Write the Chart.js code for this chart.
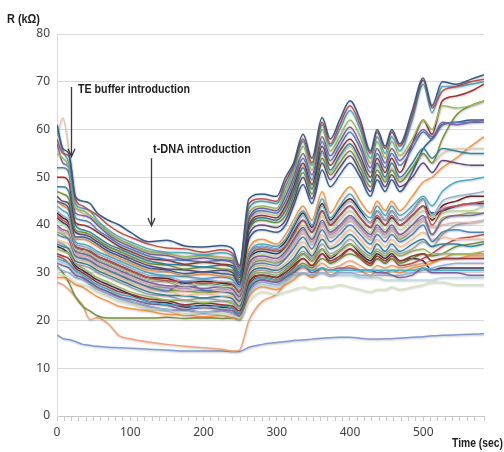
<!DOCTYPE html>
<html>
<head>
<meta charset="utf-8">
<script src="https://cdn.jsdelivr.net/npm/chart.js@4/dist/chart.umd.min.js"></script>
<style>
  html, body { margin: 0; padding: 0; background: #ffffff; }
  #wrap { width: 504px; height: 452px; }
</style>
</head>
<body>
<div id="wrap"><canvas id="chart" width="504" height="452"></canvas></div>
<script>
// Sampling times (sec) shared by every sensor trace
const times = [0,8,16,25,35,45,55,70,85,100, 125,150,175,200,225,240, 249,262,280,300,
  312,323,336,348,362,373,386,400,414,428,437,448,457,468, 485,500,512,526,545,565,583];

// Resistance traces (kΩ), one array per sensor
const sensorU01 = [61,56,55,46,45,44.5,42.5,41,40,38.5, 36.5,36.8,35.6,35.4,35.7,35, 31.5,45.5,46.5,46, 50,53,59,54,62.5,58,62,66,62,55.5,60,56.5,60,57, 64,70.8,65,70,69.5,70.5,71.5];
const sensorU02 = [58,55,54.5,45.5,44,43,42,40,38.5,37.5, 36,35.2,35,34.3,34.8,34, 31,44.5,45.5,45, 49,52.5,58,53,61.5,57,61,65,61,55,59.5,56,59.5,56.5, 63,70.3,64.5,68,69,70,70.5];
const sensorU03 = [60,55.5,53,44.5,43.5,43,41,39,37.5,36.5, 35,34.3,34.2,33.8,34.2,33.5, 30.5,43.5,45,44.5, 48,52,57.5,52.5,61,56.5,60,64,60,54,58.5,55,58.5,55.5, 62,69.5,63.5,69,69,69.5,70];
const sensorU04 = [55,54,52,43.5,43,42,40.5,38.5,37,36, 34.5,34,33.3,33.6,33.2,33, 30.5,42.5,44,43.5, 47,51,56.5,51.5,60,55.5,58.5,62,58.5,53,57.5,54,57.5,54.5, 58,62,60,65,64.5,65,66];
const sensorU05 = [57,53,52,42.5,42,41.5,40,38,36.5,35.5, 34,33.6,32.8,33.1,32.7,32.5, 30,41.5,43.5,43, 46,50,55,50.5,58.5,54.5,57.5,60.5,57,52,56,53,56,53.5, 57,60,58.5,61.5,61,61.5,62];
const sensorU06 = [52,52,51,41.5,41,40.5,39,37.5,36,35, 33.5,32.8,32.6,32.3,32.6,32, 29.5,41,43,42.5, 45,49,54,49.5,57.5,53.5,56.5,59.5,56,51,55,52,55,52.5, 56,59.5,58,61,61.5,61.5,61.5];
const sensorU07 = [50,50,49,40.5,40,39.5,38.5,37,35.5,34.5, 33,32.6,31.8,32.2,31.8,31.5, 29.5,40,42,41.5, 44,48,53,48.5,56.5,52.5,55.5,58,54.5,50,54,51,54,51, 57,62,59,66,67,68,69.5];
const sensorU08 = [48,48,47,40,39,38.5,37.5,36,35,34, 32.5,31.8,31.6,31.2,31.6,31, 29,39.5,41.5,41, 43,47,52,47.5,55.5,51.5,54.5,57,53.5,49,53,50,53,50, 53,56,54,56,55.5,55,55];
const sensorU09 = [47,46.5,45.5,39,38.5,38,37,35.5,34.5,33.5, 32,31.6,30.8,31.2,30.8,30.5, 28.5,39,41,40.5, 42,46,51,46.5,54,50.5,53,55.5,52,48,51.5,49,51.5,49, 52,55,53,58,63,65,66];
const sensorU10 = [46,45,44.5,38.5,38,37.5,36.5,35,34,33, 31.5,30.8,30.6,30.2,30.5,30, 28,38,40,39.5, 41,45,50,45.5,53,49.5,52,54.5,51,47,50.5,48,50.5,48, 50,53,51,53.5,53,52.5,52.5];
const sensorU11 = [45,44.5,43.5,37.5,37.5,37,36,34.5,33.5,32.5, 31,30.6,29.8,30.2,29.8,29.5, 27.5,37,39,38.5, 40,44,48.5,44.5,51.5,48,50.5,53,50,46,49.5,47,49.5,47, 51,56,58,61,61.5,62,62];
const sensorU12 = [59,62.4,56,45,42.5,42,40.5,38.5,37,36, 34.5,34.2,33.4,33.7,33.3,33, 31,41,42.5,42, 44,47.5,52.5,48,55,51,54,56.5,53,49,52.5,49.5,52,49.5, 52,55,53,55,56,56,56];
const sensorM01 = [45,44,43,37,37,36.5,35.5,34,33,32, 30.5,30.2,29.4,29.7,29.3,29, 27.5,35,37,36, 38,41,44,41,47,42.5,45.5,48,45,42.5,45,43,45,43, 46,49,50,52,54,56.5,58.5];
const sensorM02 = [44,43,42,36.5,36,35.5,34.5,33.5,32.5,31.5, 30,29.4,29.2,28.8,29.1,28.5, 27,34,36,35.5, 37,40,43,40,45.5,41.5,44,46.5,43.5,41.5,44,42,44,42, 44,46,44,47,49,49.5,50];
const sensorM03 = [43,42,41,36,35.5,35,34,33,32,31, 29.5,29.2,28.3,28.6,28.2,28, 26.5,33.5,35.5,35, 36,39,42,39,44,40.5,43,45,42.5,40.5,43,41,43,41, 43,45.5,42,45,46,46.5,47];
const sensorM04 = [42,41,40,35.5,35,34.5,33.5,32.5,31.5,30.5, 29,28.3,28.2,27.8,28.1,27.5, 26,33,35,34.5, 35.5,38,41,38.5,43,40,42,44,41.5,39.5,42,40,42,40, 42,44,40,43,44,44.5,45];
const sensorM05 = [41,40,39,35,34.5,34,33,32,31,30, 28.5,28.2,27.3,27.7,27.2,27, 25.5,32.5,34,33.5, 35,37.5,40,37.5,42,39,41,43,40.5,38.5,41,39,41,39, 41,43,41.5,42.5,43,43,44];
const sensorM06 = [40,39,38.5,34.5,34,33.5,32.5,31.5,30.5,29.5, 28,27.3,27.2,26.7,27.1,26.5, 25,32,33.5,33, 34.5,37,39.5,37,41,38.5,40,42,40,38,40,38.5,40,38, 40,42,38,41,42,42,42.5];
const sensorM07 = [39,38.5,38,34,33.5,33,32,31,30,29, 27.5,27.2,26.3,26.7,26.2,26, 24.5,31,33,32.5, 33.5,36,38.5,36,40,37.5,39,41,39,37,39,37.5,39,37.5, 39,41,39.5,40,40.5,40.5,41];
const sensorM08 = [38,37.5,37,33.5,33,32.5,31.5,30.5,29.5,28.5, 27,26.2,28,26.3,26.1,25.5, 24,30.5,32,31.5, 33,35,37.5,35,39,36.5,38,40,38,36,38,36.5,38,36.5, 38,40,36.5,38.5,39,38.5,38.5];
const sensorM09 = [37,36.5,36,33,32.5,32,31,30,29,28, 26.5,26.2,25.3,25.7,25.2,25, 23.5,30,31.5,31, 32,34,36.5,34,38,35.5,37,39,37,35,37,35.5,37,35.5, 37,38.5,37,37.5,37,37,37];
const sensorM10 = [36,35.5,35,32.5,32,31.5,30.5,29.5,28.5,27.5, 26,25.3,25.2,24.7,25.1,24.5, 23,29.5,31,30.5, 31.5,33,35.5,33.5,37,35,36,38,36,34,36,34.5,36,34.5, 36,37,35.5,36,36,35.5,36];
const sensorM11 = [36.5,36,35,32,31.5,31,30,29,28,27, 25.5,25.2,24.3,24.7,24.2,24, 22.5,29,30.5,30, 31,32.5,34.5,33,36,34,35,37,35,33.5,35,34,35,34, 35,36.5,35.5,38,40,40.5,41];
const sensorM12 = [39.5,38.5,38,34,33.5,33,32,31,30,29, 27.5,26.8,26.7,26.2,26.6,26, 24.5,31.5,33,32.5, 34,36.5,39,36.5,40.5,38,39.5,41.5,39.5,37.5,39.5,38,39.5,38, 40,41.5,42,43.5,44,44.5,44];
const sensorM13 = [42.5,41.5,40.5,35.5,35,34.5,33.5,32.5,31.5,30.5, 29,28.8,27.8,28.2,27.8,27.5, 26,33.5,35.5,35, 36.5,39.5,42.5,39.5,44.5,41,43.5,45.5,43,40.5,43,41,43,41, 43,45.5,41,44,45,46,46];
const sensorM14 = [38.5,38,37,33.5,33,32.5,31.5,30.5,29.5,28.5, 27,26.3,26.2,25.8,26.1,25.5, 24,31,32.5,32, 33.5,36,38.5,36,40,37.5,39,41,39,37,39,37.5,39,37, 39,41,38,41.5,42,42.5,42.5];
const sensorM15 = [41.5,40.5,39.5,35,34.5,34,33,32,31,30, 28.5,28.2,27.3,27.7,27.3,27, 25.5,32.5,34.5,34, 35.5,38.5,41,38.5,43,40,42,44,41.5,39.5,41.5,40,41.5,40, 42,44,42.5,43,44,44.5,44.5];
const sensorL01 = [35,34.5,34,32,31,30,29,28,27,26, 25,24.3,24.2,23.8,24.1,23.5, 22.5,28.5,30,29.5, 30.5,32,34,32.5,35,33.5,34.5,36,34.5,33,34.5,33.5,34.5,33.5, 34.5,35,34,34,34,34,34.5];
const sensorL02 = [34,33.5,33,31,30,29,28,27,26,25.5, 24.5,24.2,23.3,23.7,23.3,23, 22,28,29.5,29, 30,31.5,33,31.5,34,32.5,33.5,35,33.5,32,33.5,32.5,33.5,32.5, 33.5,34,32.5,33,33,33,33];
const sensorL03 = [33,32.5,32,30.5,29.5,28.5,27.5,26.5,25.5,25, 24,23.3,23.2,22.7,23.1,22.5, 21.5,27,29,28.5, 29.5,30.5,31.5,30.5,31,30.5,30.5,30.5,30.5,30.5,30.5,30.5,30.5,30.5, 30.5,31,30.5,30.5,30.5,30.5,30.5];
const sensorL04 = [32,31.5,31,29.5,29,28,27,26,25,24.5, 23.5,23.2,22.3,22.7,22.3,22, 21,26.5,28.5,28, 29,30,31.5,30,31,30.5,31,31,30.5,30.5,30,30,29.5,29, 29.5,31,30,30,30,29.5,29.5];
const sensorL05 = [31,30.5,30,29,28.5,27.5,26.5,25.5,24.5,24, 23,22.3,22.2,21.8,22.1,21.5, 21,26,28,27.5, 28.5,29.5,30,29.5,30,29.5,30,30,29.5,29.5,29.5,29.5,29.5,29.5, 30,30.5,31,31.5,32,32,32];
const sensorL06 = [30,29.5,29,28,27.5,27,26,25,24,23.5, 22.5,22.2,21.3,21.7,21.3,21, 20.5,24,26,25.5, 26,26.5,27,26.5,27,27,27.5,27,26.5,26,26.5,26.5,27,26.5, 27,27.5,28,28,27.5,27.5,27.5];
const sensorL07 = [29,29,28.5,27.5,27,26,25,24,23,22.5, 22,21.3,21.2,20.8,21.1,20.5, 20.2,25,27,26.5, 27.5,28.5,30,29,31,29.5,30.5,31.5,30.5,29.5,30.5,30,30.5,30, 31,31.5,32,33,34,34,34];
const sensorL08 = [32.5,32,31.5,30,29,28,27,26,25,24, 22.5,22.2,21.3,21.7,21.3,21, 20.6,25.5,27.5,27, 28,29,30,29.5,30,29.5,29.5,29.5,29,29,29,28.5,28.5,28.5, 28.5,28.5,28.5,29,29,29,29];
const sensorL09 = [31.5,30,28,25,23,22,21,20.5,20.5,20.5, 20.5,20.7,20.4,20.6,20.4,20.5, 20.2,26.5,28.5,28, 29,30.5,32,31,33,32,33,34,33,32,33,32,33,32, 33,34,33.5,34,35.5,36,36.5];
const sensorL10 = [33.5,33,32,30,29,28,27,26,25,24, 23,22.3,22.2,21.7,22.1,21.5, 21,27.5,29,28.5, 29.5,31,33,31.5,34,32,33,35,33,31.5,33,32,33,31.5, 32,33,34,35.5,37,37.5,38];
const sensorL11 = [35.5,35,34,31.5,30.5,29.5,28.5,27.5,26.5,25.5, 24,23.7,22.8,23.2,22.8,22.5, 21.5,28,29.5,29, 30.5,32,34,32.5,35,33,34.5,36,34,32.5,34,33,34,32.5, 33,32.5,30.5,31,31,31,31];
const sensorX01 = [28,27.5,26.5,25,23.2,20.2,20.6,19.3,16.8,16.2, 15.5,15,14.6,14.3,14,13.6, 13.8,20,24,25.5, 28,30,31,30.5,32,31,31.5,32.5,31.5,30.5,31.5,31,31.5,31, 31.5,32,32.5,33,33,33.5,33.5];
const sensorX02 = [17,16.2,16,15.6,15,14.8,14.6,14.4,14.3,14.2, 14,13.8,13.6,13.6,13.6,13.5, 13.5,14.4,15,15.4, 15.6,15.8,15.9,16.1,16.3,16.4,16.5,16.5,16.3,16.1,16.1,16.2,16.2,16.3, 16.5,16.6,16.8,16.9,17,17.1,17.2];

const traces = [
  sensorU01, sensorU02, sensorU03, sensorU04, sensorU05, sensorU06, sensorU07, sensorU08, sensorU09, sensorU10, sensorU11, sensorU12,
  sensorM01, sensorM02, sensorM03, sensorM04, sensorM05, sensorM06, sensorM07, sensorM08, sensorM09, sensorM10, sensorM11, sensorM12, sensorM13, sensorM14, sensorM15,
  sensorL01, sensorL02, sensorL03, sensorL04, sensorL05, sensorL06, sensorL07, sensorL08, sensorL09, sensorL10, sensorL11,
  sensorX01, sensorX02
];
const traceColors = [
  '#34598A', '#C0504D', '#4BACC6', '#9BBB59', '#8064A2', '#4F81BD', '#943634', '#31859C', '#76923C', '#5F497A', '#376092', '#E2CBB0',
  '#F79646', '#4BACC6', '#95B3D7', '#C0504D', '#C3D69B', '#8064A2', '#E6B9B8', '#4F81BD', '#FAC090', '#31859C', '#A6A6A6', '#B3A2C7', '#632523', '#9BBB59', '#1F497D',
  '#9BBB59', '#953735', '#4BACC6', '#8064A2', '#8EB4E3', '#D7E4BD', '#F79646', '#B7DEE8', '#77933C', '#C0504D', '#403152',
  '#F2A27A', '#7F9BCF'
];

const yTicks = [0, 10, 20, 30, 40, 50, 60, 70, 80];
const xLabelTicks = [0, 100, 200, 300, 400, 500];

// Soft drop shadow under each trace
const traceShadow = {
  id: 'traceShadow',
  beforeDatasetDraw(chart) {
    const ctx = chart.ctx;
    ctx.save();
    ctx.shadowColor = 'rgba(0,0,0,0.22)';
    ctx.shadowBlur = 2;
    ctx.shadowOffsetX = 0.5;
    ctx.shadowOffsetY = 1;
  },
  afterDatasetDraw(chart) {
    chart.ctx.restore();
  }
};

// Axis titles and the two injection markers
const notes = {
  id: 'notes',
  afterDraw(chart) {
    const ctx = chart.ctx;
    const xs = chart.scales.x, ys = chart.scales.y;
    const fitted = (text, x, y, width, font) => {
      ctx.font = font;
      const w = ctx.measureText(text).width;
      ctx.save();
      ctx.translate(x, y);
      ctx.scale(width / w, 1);
      ctx.fillText(text, 0, 0);
      ctx.restore();
    };
    const arrow = (t, r0, r1) => {
      const x = Math.round(xs.getPixelForValue(t)) + 0.5;
      const y0 = ys.getPixelForValue(r0), y1 = ys.getPixelForValue(r1);
      ctx.beginPath();
      ctx.moveTo(x, y0);
      ctx.lineTo(x, y1);
      ctx.moveTo(x - 3.5, y1 - 8);
      ctx.lineTo(x, y1);
      ctx.lineTo(x + 3.5, y1 - 8);
      ctx.stroke();
    };
    ctx.save();
    ctx.fillStyle = '#1e1e1e';
    ctx.textBaseline = 'alphabetic';
    ctx.textAlign = 'left';
    fitted('R (kΩ)', 7, 23, 33, 'bold 12.5px "Liberation Sans", sans-serif');
    fitted('Time (sec)', 452, 447, 51, 'bold 12.5px "Liberation Sans", sans-serif');
    fitted('TE buffer introduction', 78, 92.5, 112, 'bold 13.5px "Liberation Sans", sans-serif');
    fitted('t-DNA introduction', 153, 152.5, 98, 'bold 13.5px "Liberation Sans", sans-serif');
    ctx.strokeStyle = '#3a3a3a';
    ctx.lineWidth = 1.3;
    arrow(19, 68.9, 54.3);
    arrow(128, 54, 39.8);
    ctx.restore();
  }
};

const datasets = traces.map((vals, i) => ({
  data: vals.map((v, k) => ({ x: times[k], y: v })),
  borderColor: traceColors[i],
  backgroundColor: traceColors[i],
  borderWidth: 1.5,
  pointRadius: 0,
  fill: false,
  cubicInterpolationMode: 'monotone'
}));

new Chart(document.getElementById('chart'), {
  type: 'line',
  data: { datasets },
  options: {
    responsive: false,
    animation: false,
    devicePixelRatio: 1,
    layout: { padding: { left: 0, right: 20, top: 34, bottom: 0 } },
    plugins: { legend: { display: false }, tooltip: { enabled: false } },
    scales: {
      x: {
        type: 'linear',
        min: 0,
        max: 583,
        afterFit: s => { s.height = 36; },
        border: { color: '#C8C8C8' },
        grid: { drawOnChartArea: false, tickLength: 5, color: '#C8C8C8' },
        ticks: {
          stepSize: 10,
          autoSkip: false,
          maxRotation: 0,
          padding: 4,
          color: '#404040',
          font: { family: '"Noto Sans", sans-serif', size: 12 },
          callback: v => (xLabelTicks.includes(v) ? String(v) : '')
        }
      },
      y: {
        min: 0,
        max: 80,
        afterFit: s => { s.width = 57; },
        border: { color: '#D9D9D9' },
        grid: { color: '#D9D9D9', drawTicks: false },
        ticks: {
          stepSize: 10,
          padding: 7,
          color: '#404040',
          font: { family: '"Noto Sans", sans-serif', size: 12 },
          callback: v => (yTicks.includes(v) ? String(v) : '')
        }
      }
    }
  },
  plugins: [traceShadow, notes]
});
</script>
</body>
</html>
